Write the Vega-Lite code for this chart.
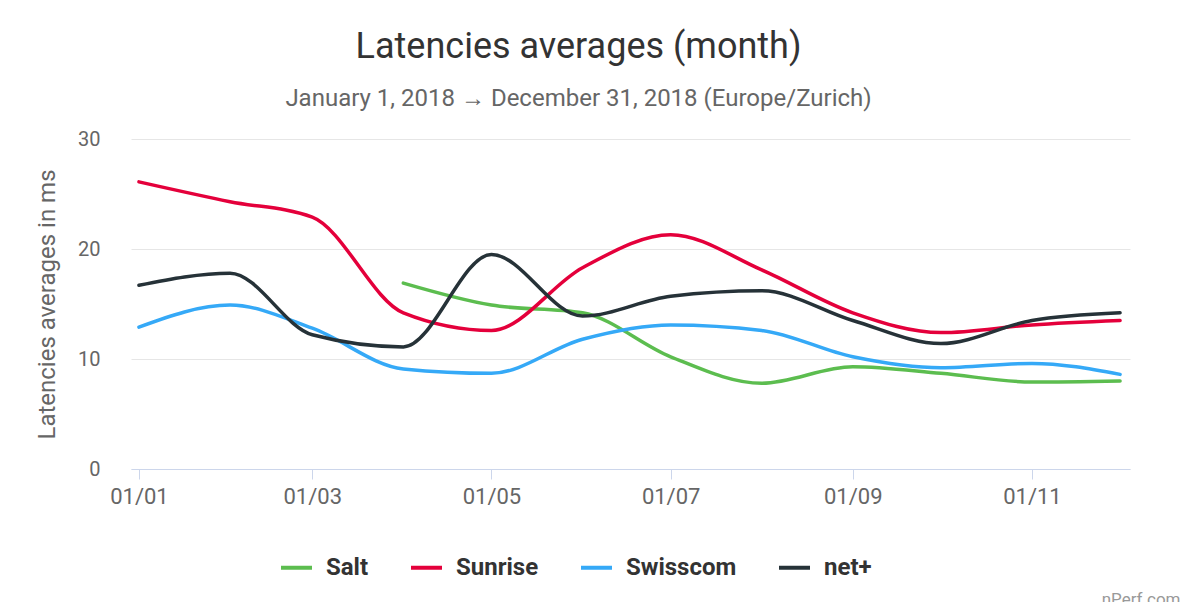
{
  "$schema": "https://vega.github.io/schema/vega-lite/v6.json",
  "width": 999,
  "height": 330,
  "autosize": {"type": "none"},
  "padding": {"left": 131, "top": 139, "right": 64, "bottom": 133},
  "background": "#ffffff",
  "title": {
    "text": "Latencies averages (month)",
    "subtitle": "January 1, 2018 → December 31, 2018 (Europe/Zurich)",
    "anchor": "middle",
    "dx": -52,
    "offset": 17,
    "font": "Roboto",
    "fontSize": 36,
    "fontWeight": "normal",
    "color": "#333333",
    "subtitleFont": "Roboto",
    "subtitleFontSize": 24,
    "subtitleColor": "#666666",
    "subtitlePadding": 21
  },
  "data": {
    "values": [
      {"date": "2018-04-01", "operator": "Salt", "latency": 16.9},
      {"date": "2018-05-01", "operator": "Salt", "latency": 14.9},
      {"date": "2018-06-01", "operator": "Salt", "latency": 14.2},
      {"date": "2018-07-01", "operator": "Salt", "latency": 10.2},
      {"date": "2018-08-01", "operator": "Salt", "latency": 7.8},
      {"date": "2018-09-01", "operator": "Salt", "latency": 9.3},
      {"date": "2018-10-01", "operator": "Salt", "latency": 8.7},
      {"date": "2018-11-01", "operator": "Salt", "latency": 7.9},
      {"date": "2018-12-01", "operator": "Salt", "latency": 8.0},
      {"date": "2018-01-01", "operator": "Sunrise", "latency": 26.1},
      {"date": "2018-02-01", "operator": "Sunrise", "latency": 24.3},
      {"date": "2018-03-01", "operator": "Sunrise", "latency": 22.9},
      {"date": "2018-04-01", "operator": "Sunrise", "latency": 14.2},
      {"date": "2018-05-01", "operator": "Sunrise", "latency": 12.6},
      {"date": "2018-06-01", "operator": "Sunrise", "latency": 18.3},
      {"date": "2018-07-01", "operator": "Sunrise", "latency": 21.3},
      {"date": "2018-08-01", "operator": "Sunrise", "latency": 18.1},
      {"date": "2018-09-01", "operator": "Sunrise", "latency": 14.2},
      {"date": "2018-10-01", "operator": "Sunrise", "latency": 12.4},
      {"date": "2018-11-01", "operator": "Sunrise", "latency": 13.1},
      {"date": "2018-12-01", "operator": "Sunrise", "latency": 13.5},
      {"date": "2018-01-01", "operator": "Swisscom", "latency": 12.9},
      {"date": "2018-02-01", "operator": "Swisscom", "latency": 14.9},
      {"date": "2018-03-01", "operator": "Swisscom", "latency": 12.8},
      {"date": "2018-04-01", "operator": "Swisscom", "latency": 9.1},
      {"date": "2018-05-01", "operator": "Swisscom", "latency": 8.7},
      {"date": "2018-06-01", "operator": "Swisscom", "latency": 11.8},
      {"date": "2018-07-01", "operator": "Swisscom", "latency": 13.1},
      {"date": "2018-08-01", "operator": "Swisscom", "latency": 12.6},
      {"date": "2018-09-01", "operator": "Swisscom", "latency": 10.2},
      {"date": "2018-10-01", "operator": "Swisscom", "latency": 9.2},
      {"date": "2018-11-01", "operator": "Swisscom", "latency": 9.6},
      {"date": "2018-12-01", "operator": "Swisscom", "latency": 8.6},
      {"date": "2018-01-01", "operator": "net+", "latency": 16.7},
      {"date": "2018-02-01", "operator": "net+", "latency": 17.8},
      {"date": "2018-03-01", "operator": "net+", "latency": 12.2},
      {"date": "2018-04-01", "operator": "net+", "latency": 11.1},
      {"date": "2018-05-01", "operator": "net+", "latency": 19.5},
      {"date": "2018-06-01", "operator": "net+", "latency": 13.9},
      {"date": "2018-07-01", "operator": "net+", "latency": 15.7},
      {"date": "2018-08-01", "operator": "net+", "latency": 16.2},
      {"date": "2018-09-01", "operator": "net+", "latency": 13.5},
      {"date": "2018-10-01", "operator": "net+", "latency": 11.4},
      {"date": "2018-11-01", "operator": "net+", "latency": 13.5},
      {"date": "2018-12-01", "operator": "net+", "latency": 14.2}
    ]
  },
  "mark": {"type": "line", "interpolate": "monotone", "strokeWidth": 3.5, "strokeCap": "round"},
  "encoding": {
    "x": {
      "field": "date",
      "type": "temporal",
      "scale": {
        "type": "utc",
        "domain": [
          {"year": 2017, "month": 12, "date": 29, "hours": 7, "utc": true},
          {"year": 2018, "month": 12, "date": 4, "hours": 9, "utc": true}
        ]
      },
      "axis": {
        "values": [
          {"year": 2018, "month": 1, "date": 1, "utc": true},
          {"year": 2018, "month": 3, "date": 1, "utc": true},
          {"year": 2018, "month": 5, "date": 1, "utc": true},
          {"year": 2018, "month": 7, "date": 1, "utc": true},
          {"year": 2018, "month": 9, "date": 1, "utc": true},
          {"year": 2018, "month": 11, "date": 1, "utc": true}
        ],
        "format": "%d/%m",
        "grid": false,
        "domainColor": "#ccd6eb",
        "domainWidth": 1,
        "tickColor": "#ccd6eb",
        "tickSize": 10,
        "labelFont": "Roboto",
        "labelFontSize": 22,
        "labelColor": "#666666",
        "labelPadding": 7,
        "title": "nPerf.com",
        "titleFont": "Roboto",
        "titleFontSize": 17,
        "titleFontWeight": "normal",
        "titleColor": "#999999",
        "titleAnchor": "end",
        "titleAlign": "right",
        "titleX": 1049,
        "titleY": 135,
        "titleBaseline": "alphabetic"
      }
    },
    "y": {
      "field": "latency",
      "type": "quantitative",
      "scale": {"domain": [0, 30]},
      "axis": {
        "values": [0, 10, 20, 30],
        "title": "Latencies averages in ms",
        "titleFont": "Roboto",
        "titleFontSize": 24,
        "titleFontWeight": "normal",
        "titleColor": "#666666",
        "titlePadding": 18,
        "domain": false,
        "ticks": false,
        "gridColor": "#e6e6e6",
        "gridWidth": 1,
        "labelFont": "Roboto",
        "labelFontSize": 20,
        "labelColor": "#666666",
        "labelPadding": 31
      }
    },
    "color": {
      "field": "operator",
      "type": "nominal",
      "scale": {
        "domain": ["Salt", "Sunrise", "Swisscom", "net+"],
        "range": ["#5cbd4f", "#e4003b", "#35a9f7", "#263238"]
      },
      "legend": {
        "title": null,
        "orient": "none",
        "direction": "horizontal",
        "legendX": 148,
        "legendY": 411,
        "symbolType": "stroke",
        "symbolSize": 961,
        "symbolStrokeWidth": 4,
        "labelFont": "Roboto",
        "labelFontSize": 24,
        "labelFontWeight": "bold",
        "labelColor": "#333333",
        "labelOffset": 12,
        "columnPadding": 34
      }
    }
  },
  "config": {
    "view": {"stroke": null}
  }
}
